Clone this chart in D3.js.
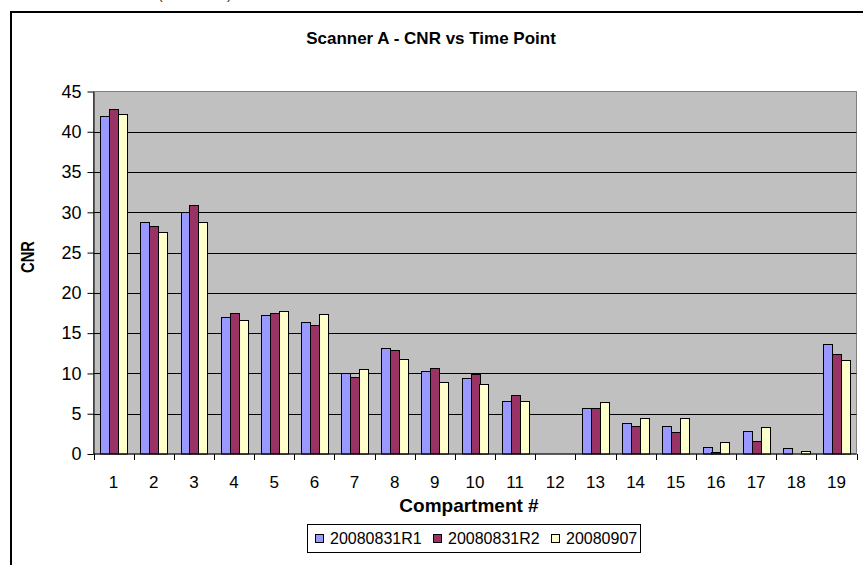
<!doctype html>
<html>
<head>
    <meta charset="utf-8"/>
    <style>
        html, body {
            margin: 0;
            padding: 0;
            background: #ffffff;
        }
        svg {
            display: block;
            font-family: Arial, "Liberation Sans", sans-serif;
        }
    </style>
    <script src="https://d3js.org/d3.v7.min.js"></script>
</head>
<body>

<svg id="chart" width="863" height="565"></svg>

<script>

    // Compartments on the x axis
    var compartments = ["1", "2", "3", "4", "5", "6", "7", "8", "9", "10",
        "11", "12", "13", "14", "15", "16", "17", "18", "19"];

    // One series per time point (null = no bar)
    var seriesNames = ["20080831R1", "20080831R2", "20080907"];
    var r1Values   = [42.0, 28.8, 30.1, 17.0, 17.3, 16.4, 10.1, 13.1, 10.3, 9.4, 6.6, null, 5.7, 3.85, 3.5, 0.9, 2.9, 0.7, 13.7];
    var r2Values   = [42.8, 28.3, 30.9, 17.55, 17.55, 16.0, 9.6, 12.9, 10.7, 9.9, 7.3, null, 5.7, 3.5, 2.75, 0.2, 1.6, null, 12.4];
    var sepValues  = [42.2, 27.5, 28.85, 16.6, 17.75, 17.35, 10.5, 11.8, 9.0, 8.65, 6.6, null, 6.4, 4.45, 4.45, 1.45, 3.3, 0.35, 11.7];
    var seriesColors = ["#9999ff", "#993366", "#ffffcc"];

    var yTicks = [0, 5, 10, 15, 20, 25, 30, 35, 40, 45];

    var svg = d3.select("#chart");

    // plot area, in page pixels
    var plot = {left: 93.5, top: 91.5, right: 856.5, bottom: 454};

    var x = d3.scaleBand()
        .domain(compartments)
        .range([plot.left, plot.right])
        .paddingInner(0)
        .paddingOuter(0);

    // Excel style: gap width 150% of one bar
    var barW = x.bandwidth() / 4.5;
    var xInner = d3.scaleBand()
        .domain(seriesNames)
        .range([barW * 0.75, x.bandwidth() - barW * 0.75]);

    var y = d3.scaleLinear()
        .domain([0, 45])
        .range([plot.bottom, plot.top]);

    // outer chart frame (cut off at right and bottom in the picture)
    svg.append("rect")
        .attr("x", 11)
        .attr("y", 12)
        .attr("width", 900)
        .attr("height", 600)
        .attr("fill", "none")
        .attr("stroke", "#000")
        .attr("stroke-width", 2);

    // tips of a caption above the frame
    svg.append("text")
        .attr("x", 158)
        .attr("y", -1)
        .attr("font-size", 14)
        .attr("fill", "#333")
        .text("(");
    svg.append("text")
        .attr("x", 227)
        .attr("y", -1)
        .attr("font-size", 14)
        .attr("fill", "#333")
        .text(")");

    // plot background
    svg.append("rect")
        .attr("x", plot.left)
        .attr("y", plot.top)
        .attr("width", plot.right - plot.left)
        .attr("height", plot.bottom - plot.top)
        .attr("fill", "#c0c0c0")
        .attr("stroke", "#808080")
        .attr("stroke-width", 1);

    // gridlines
    svg.append("g")
        .selectAll("line")
        .data(yTicks.filter(function(d) { return d > 0 && d < 45; }))
        .enter()
        .append("line")
        .attr("x1", plot.left)
        .attr("x2", plot.right)
        .attr("y1", function(d) { return Math.round(y(d)) + 0.5; })
        .attr("y2", function(d) { return Math.round(y(d)) + 0.5; })
        .attr("stroke", "#000")
        .attr("stroke-width", 1);

    // bars
    var table = seriesNames.map(function(name, i) {
        var vals = [r1Values, r2Values, sepValues][i];
        return compartments.map(function(c, j) {
            return {series: name, cat: c, value: vals[j], color: seriesColors[i]};
        });
    });

    svg.append("g")
        .selectAll("g")
        .data(table)
        .enter()
        .append("g")
        .selectAll("rect")
        .data(function(d) { return d.filter(function(p) { return p.value !== null; }); })
        .enter()
        .append("rect")
        .attr("x", function(d) { return Math.round(x(d.cat) + xInner(d.series)) + 0.5; })
        .attr("y", function(d) { return Math.round(y(d.value)) + 0.5; })
        .attr("width", Math.round(xInner.bandwidth()))
        .attr("height", function(d) { return Math.max(0, Math.round(plot.bottom - y(d.value)) - 0.5); })
        .attr("fill", function(d) { return d.color; })
        .attr("stroke", "#000")
        .attr("stroke-width", 1);

    // y axis
    var yAxis = d3.axisLeft(y)
        .tickValues(yTicks)
        .tickSize(6)
        .tickPadding(6)
        .tickSizeOuter(0);

    var gy = svg.append("g")
        .attr("transform", "translate(" + plot.left + ",0)")
        .call(yAxis);
    gy.selectAll("text")
        .attr("font-family", "Arial, 'Liberation Sans', sans-serif")
        .attr("font-size", 18)
        .attr("fill", "#000");
    gy.selectAll("line, path").attr("stroke", "#000");

    // x axis: ticks between the categories
    var gx = svg.append("g")
        .attr("transform", "translate(0," + plot.bottom + ")");
    gx.append("line")
        .attr("x1", plot.left)
        .attr("x2", plot.right)
        .attr("stroke", "#000");
    gx.selectAll(".tick")
        .data(compartments.concat(["end"]))
        .enter()
        .append("line")
        .attr("class", "tick")
        .attr("x1", function(d, i) { return Math.round(plot.left + i * x.bandwidth()) + 0.5; })
        .attr("x2", function(d, i) { return Math.round(plot.left + i * x.bandwidth()) + 0.5; })
        .attr("y1", 0)
        .attr("y2", 6)
        .attr("stroke", "#000");
    gx.selectAll(".label")
        .data(compartments)
        .enter()
        .append("text")
        .attr("class", "label")
        .attr("x", function(d) { return x(d) + x.bandwidth() / 2; })
        .attr("y", 34)
        .attr("text-anchor", "middle")
        .attr("font-size", 17)
        .text(function(d) { return d; });

    // titles
    svg.append("text")
        .attr("x", 431)
        .attr("y", 44)
        .attr("text-anchor", "middle")
        .attr("font-size", 17)
        .attr("font-weight", "bold")
        .text("Scanner A - CNR vs Time Point");

    svg.append("text")
        .attr("x", 469)
        .attr("y", 512)
        .attr("text-anchor", "middle")
        .attr("font-size", 19)
        .attr("font-weight", "bold")
        .text("Compartment #");

    svg.append("text")
        .attr("transform", "translate(34,257) rotate(-90)")
        .attr("text-anchor", "middle")
        .attr("font-size", 18)
        .attr("font-weight", "bold")
        .attr("textLength", 32)
        .attr("lengthAdjust", "spacingAndGlyphs")
        .text("CNR");

    // legend
    var legend = svg.append("g");
    legend.append("rect")
        .attr("x", 307.5)
        .attr("y", 524.5)
        .attr("width", 333)
        .attr("height", 28)
        .attr("fill", "#fff")
        .attr("stroke", "#000")
        .attr("stroke-width", 1);

    var legendX = [315, 433, 551];
    var items = legend.selectAll(".item")
        .data(seriesNames)
        .enter()
        .append("g")
        .attr("class", "item")
        .attr("transform", function(d, i) { return "translate(" + legendX[i] + ",534)"; });
    items.append("rect")
        .attr("x", 0.5)
        .attr("y", 0.5)
        .attr("width", 8)
        .attr("height", 8)
        .attr("fill", function(d, i) { return seriesColors[i]; })
        .attr("stroke", "#000");
    items.append("text")
        .attr("x", 15)
        .attr("y", 10)
        .attr("font-size", 16)
        .text(function(d) { return d; });

</script>

</body>
</html>
